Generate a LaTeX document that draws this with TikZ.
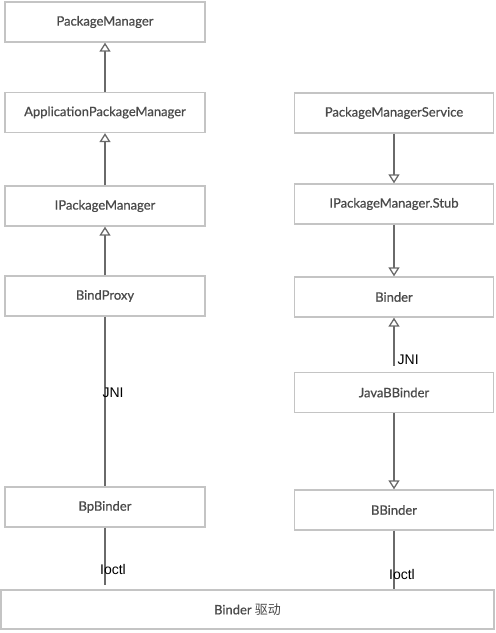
\documentclass[tikz,border=0pt]{standalone}
\usepackage{fontspec}
\setmainfont{Lato}[FakeBold=0.6]
\newfontfamily\lblfont{Liberation Sans}
\newfontfamily\cjk{Noto Sans CJK SC}
\usetikzlibrary{arrows.meta}
\definecolor{boxline}{HTML}{C4C4C4}
\definecolor{boxtext}{HTML}{4A4A4A}
\definecolor{arrowc}{HTML}{6A6A6A}
\tikzset{
  box/.style={draw=boxline, line width=1.3pt, fill=white, text=boxtext,
    minimum width=200pt, minimum height=40pt, inner sep=0pt,
    font=\fontsize{13}{15}\selectfont},
  inh/.style={draw=arrowc, line width=1.4pt,
    -{Triangle[open, width=11pt, length=9pt, line width=1.3pt]}},
  plain/.style={draw=arrowc, line width=1.4pt},
  lbl/.style={text=black, font=\lblfont\fontsize{14}{16}\selectfont, inner sep=0pt}
}
\begin{document}
\begin{tikzpicture}[x=1pt, y=-1pt]
\useasboundingbox (0,0) rectangle (496,633);
% left column
\node[box] (pm)   at (105,22)    {PackageManager};
\node[box] (apm)  at (105,112.5) {ApplicationPackageManager};
\node[box] (ipm)  at (105,206)   {IPackageManager};
\node[box] (bpx)  at (105,296)   {BindProxy};
\node[box] (bpb)  at (105,507)   {BpBinder};
% right column
\node[box, minimum width=199pt] (pms)  at (394,113)   {PackageManagerService};
\node[box, minimum width=199pt] (stub) at (394,204)   {IPackageManager.Stub};
\node[box, minimum width=199pt] (bnd)  at (394,297)   {Binder};
\node[box, minimum width=199pt] (jbb)  at (394,392.5) {JavaBBinder};
\node[box, minimum width=199pt] (bbd)  at (394,510)   {BBinder};
% driver
\node[box, minimum width=493pt, minimum height=39pt] (drv) at (247.5,609.5) {Binder {\cjk 驱动}};
% connectors
\draw[inh] (apm.north) -- (pm.south);
\draw[inh] (ipm.north) -- (apm.south);
\draw[inh] (bpx.north) -- (ipm.south);
\draw[plain] (bpx.south) -- node[lbl, pos=0.45, xshift=8pt] {JNI} (bpb.north);
\draw[plain, shorten >=4pt] (bpb.south) -- node[lbl, pos=0.68, xshift=8pt] {Ioctl} (drv.north -| bpb.south);
\draw[inh] (pms.south) -- (stub.north);
\draw[inh] (stub.south) -- (bnd.north);
\draw[inh, shorten <=6pt] (jbb.north) -- node[lbl, pos=0.22, anchor=west, xshift=3pt] {JNI} (bnd.south);
\draw[inh] (jbb.south) -- (bbd.north);
\draw[plain] (bbd.south) -- node[lbl, pos=0.75, xshift=8pt] {Ioctl} (drv.north -| bbd.south);
\end{tikzpicture}
\end{document}
